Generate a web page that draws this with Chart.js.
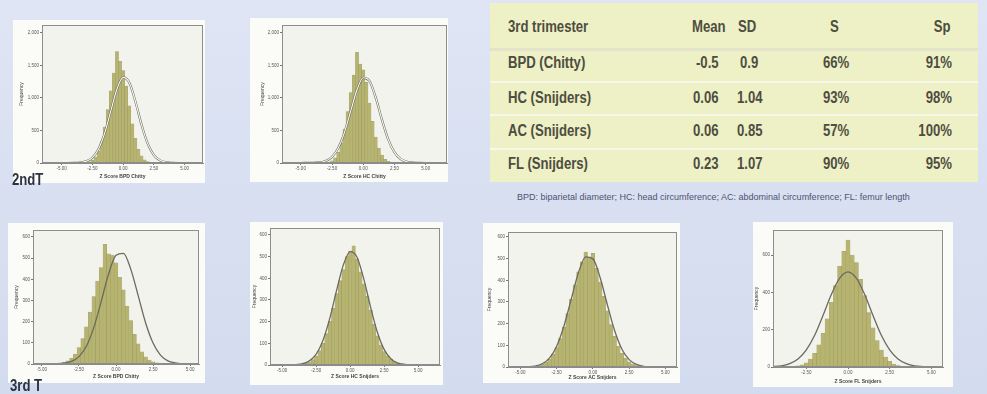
<!DOCTYPE html>
<html>
<head>
<meta charset="utf-8">
<script src="https://cdn.jsdelivr.net/npm/chart.js@4.4.1/dist/chart.umd.min.js"></script>
<style>
  body {
    margin: 0;
    width: 987px;
    height: 394px;
    overflow: hidden;
    position: relative;
    font-family: "Liberation Sans", Arial, sans-serif;
    background: linear-gradient(180deg, #dfe5f4 0%, #d9e0f1 45%, #d3dbee 100%);
  }
  canvas { position: absolute; background: #fbfbf8; }
  .lbl {
    position: absolute; font-weight: bold; font-size: 16px; line-height: 16px;
    color: #2b3242; transform: scaleX(.82); transform-origin: left center; white-space: nowrap;
  }
  #tbl { position: absolute; left: 490px; top: 3px; width: 488px; height: 179px; background: #eef0c6; }
  .sep { position: absolute; left: 0; width: 100%; height: 2px; background: #f8f8ea; }
  .cell {
    position: absolute; font-weight: bold; font-size: 16px; line-height: 16px; color: #4d4d40;
    white-space: nowrap; transform: scaleX(.82); transform-origin: left center;
  }
  .cell.r { transform-origin: right center; }
  #note { position: absolute; left: 517px; top: 192px; font-size: 9px; line-height: 10px; color: #4d5372; white-space: nowrap; }
</style>
</head>
<body>

<div id="tbl"></div>
<div id="note">BPD: biparietal diameter; HC: head circumference; AC: abdominal circumference; FL: femur length</div>

<canvas id="c-bpd2" width="192" height="163"></canvas>
<canvas id="c-hc2" width="198" height="164"></canvas>
<canvas id="c-bpd3" width="197" height="160"></canvas>
<canvas id="c-hc3" width="193" height="163"></canvas>
<canvas id="c-ac3" width="197" height="160"></canvas>
<canvas id="c-fl3" width="200" height="165"></canvas>

<div class="lbl" style="left:12px; top:172px;">2ndT</div>
<div class="lbl" style="left:10px; top:378px;">3rd T</div>

<script>
// histogram bins (z score, bin centre)
var binX = [-4, -3.75, -3.5, -3.25, -3, -2.75, -2.5, -2.25, -2, -1.75, -1.5, -1.25, -1, -0.75, -0.5, -0.25,
            0, 0.25, 0.5, 0.75, 1, 1.25, 1.5, 1.75, 2, 2.25, 2.5, 2.75, 3, 3.25, 3.5, 3.75, 4, 4.25, 4.5];

var histBpd2 = [0, 2, 4, 6, 10, 18, 40, 90, 180, 330, 550, 820, 1110, 1380, 1710, 1560,
                1420, 1180, 880, 600, 380, 210, 110, 50, 22, 10, 5, 2, 0, 0, 0, 0, 0, 0, 0];
var histHc2  = [0, 1, 3, 5, 9, 16, 35, 80, 165, 310, 520, 790, 1080, 1350, 1700, 1520,
                1430, 1240, 920, 640, 400, 230, 120, 55, 25, 11, 5, 2, 0, 0, 0, 0, 0, 0, 0];
var histBpd3 = [2, 4, 8, 15, 27, 47, 77, 120, 175, 245, 318, 392, 455, 565, 520, 515,
                478, 410, 350, 272, 205, 140, 95, 58, 34, 19, 10, 5, 2, 1, 0, 0, 0, 0, 0];
var histHc3  = [1, 2, 4, 8, 14, 25, 41, 66, 100, 145, 201, 262, 330, 390, 440, 500,
                525, 550, 490, 430, 375, 318, 253, 189, 135, 92, 62, 42, 27, 16, 10, 6, 4, 2, 1];
var histAc3  = [3, 6, 12, 21, 36, 58, 90, 131, 184, 246, 313, 379, 439, 485, 530, 505,
                525, 455, 392, 326, 259, 196, 141, 97, 64, 40, 24, 14, 7, 4, 2, 1, 0, 0, 0];
var histFl3  = [0, 0, 1, 3, 6, 12, 23, 43, 73, 119, 181, 258, 346, 436, 540, 620,
                680, 600, 560, 470, 382, 292, 210, 141, 90, 53, 30, 16, 8, 4, 2, 1, 0, 0, 0];

// normal curves drawn over the histograms
var curveX = [-7, -5, -4.5, -4, -3.5, -3, -2.5, -2, -1.5, -1, -0.5, 0, 0.5, 1, 1.5, 2, 2.5, 3, 3.5, 4, 4.5, 5, 7];

var curveBpd2 = [0, 0, 0, 1, 6, 25, 81, 214, 458, 801, 1137, 1315, 1235, 945, 587, 297, 122, 41, 11, 2, 0, 0, 0];
var curveHc2  = [0, 0, 1, 2, 9, 31, 93, 230, 471, 801, 1125, 1309, 1260, 1004, 663, 362, 163, 61, 19, 5, 1, 0, 0];
var curveBpd3 = [0, 0, 0, 1, 4, 12, 35, 84, 172, 295, 425, 514, 523, 447, 322, 194, 99, 42, 15, 5, 1, 0, 0];
var curveHc3  = [0, 0, 0, 2, 6, 19, 50, 114, 216, 345, 463, 523, 497, 396, 266, 150, 71, 28, 9, 3, 1, 0, 0];
var curveAc3  = [0, 0, 1, 4, 15, 41, 96, 189, 312, 435, 508, 499, 412, 286, 167, 82, 34, 12, 3, 1, 0, 0, 0];
var curveFl3  = [0, 0, 2, 6, 18, 43, 92, 170, 276, 388, 476, 510, 476, 388, 276, 170, 92, 43, 18, 6, 2, 0, 0];

// tick labels
var xTicksWide = [-5, -2.5, 0, 2.5, 5];
var xTicksFl = [-2.5, 0, 2.5, 5];
var yTicks2nd = [0, 500, 1000, 1500, 2000];
var yTicks3rd = [0, 100, 200, 300, 400, 500, 600];
var yTicksFl = [0, 200, 400, 600];

// table
var tableHead = ['3rd trimester', 'Mean', 'SD', 'S', 'Sp'];
var tableRows = ['BPD (Chitty)', 'HC (Snijders)', 'AC (Snijders)', 'FL (Snijders)'];
var tableMean = ['-0.5', '0.06', '0.06', '0.23'];
var tableSD = ['0.9', '1.04', '0.85', '1.07'];
var tableS = ['66%', '93%', '57%', '90%'];
var tableSp = ['91%', '98%', '100%', '95%'];

// ---- table ----
var tbl = document.getElementById('tbl');
var rowTop = [16, 52, 87, 120, 153];
[45, 78, 111, 145].forEach(function(y, i) {
    var d = document.createElement('div');
    d.className = 'sep';
    d.style.top = y + 'px';
    if (i == 0) { d.style.height = '3px'; d.style.background = '#e2e3c9'; }
    tbl.appendChild(d);
});
function cell(txt, left, top, right) {
    var d = document.createElement('div');
    d.className = 'cell' + (right != null ? ' r' : '');
    d.textContent = txt;
    if (right != null) d.style.right = right + 'px'; else d.style.left = left + 'px';
    d.style.top = top + 'px';
    tbl.appendChild(d);
}
cell(tableHead[0], 18, rowTop[0]);
cell(tableHead[1], 202, rowTop[0]);
cell(tableHead[2], 248, rowTop[0]);
cell(tableHead[3], 340, rowTop[0]);
cell(tableHead[4], null, rowTop[0], 28);
for (var i = 0; i < tableRows.length; i++) {
    var t = rowTop[i + 1];
    cell(tableRows[i], 18, t);
    cell(tableMean[i], tableMean[i].charAt(0) == '-' ? 206 : 203, t);
    cell(tableSD[i], tableSD[i].length == 3 ? 250 : 247, t);
    cell(tableS[i], 333, t);
    cell(tableSp[i], null, t, 26);
}

// ---- histograms ----
Chart.defaults.font.family = '"Liberation Sans", Arial, sans-serif';
Chart.defaults.animation = false;

var plotFrame = {
    id: 'plotFrame',
    beforeDraw: function(chart) {
        var a = chart.chartArea, c = chart.ctx;
        c.save();
        c.fillStyle = '#f3f3ee';
        c.fillRect(a.left, a.top, a.right - a.left, a.bottom - a.top);
        c.restore();
    },
    afterDatasetsDraw: function(chart) {
        var a = chart.chartArea, c = chart.ctx;
        c.save();
        c.strokeStyle = '#8d8d8d';
        c.lineWidth = 1;
        c.strokeRect(a.left + 0.5, a.top + 0.5, a.right - a.left - 1, a.bottom - a.top - 1);
        c.restore();
    }
};

function makePanel(id, g, ax, hist, curve, lightCore) {
    var canvas = document.getElementById(id);
    canvas.style.left = g.left + 'px';
    canvas.style.top = g.top + 'px';

    var histPts = binX.map(function(x, i) { return {x: x, y: hist[i]}; });
    var curvePts = curveX.map(function(x, i) { return {x: x, y: curve[i]}; });

    var datasets = [{
        type: 'bar',
        data: histPts,
        backgroundColor: 'rgb(183,180,112)',
        borderColor: 'rgba(140,137,80,0.75)',
        borderWidth: 0.5,
        barPercentage: 1,
        categoryPercentage: 1,
        order: 2
    }, {
        type: 'line',
        data: curvePts,
        borderColor: '#6b6a5e',
        borderWidth: lightCore ? 2.2 : 1.3,
        pointRadius: 0,
        cubicInterpolationMode: 'monotone',
        order: 1
    }];
    if (lightCore) {
        datasets.push({
            type: 'line',
            data: curvePts,
            borderColor: '#fbfbf2',
            borderWidth: 1.1,
            pointRadius: 0,
            cubicInterpolationMode: 'monotone',
            order: 0
        });
    }

    var gridOpts = {display: true, drawOnChartArea: false, tickLength: 2, color: '#777', offset: false};

    return new Chart(canvas.getContext('2d'), {
        type: 'bar',
        data: {datasets: datasets},
        plugins: [plotFrame],
        options: {
            responsive: false,
            devicePixelRatio: 1,
            layout: {padding: {left: g.padL, right: g.padR, top: g.padT, bottom: g.padB}},
            plugins: {legend: {display: false}, tooltip: {enabled: false}},
            scales: {
                x: {
                    type: 'linear',
                    min: ax.xMin,
                    max: ax.xMax,
                    offset: false,
                    afterBuildTicks: function(s) { s.ticks = ax.xTicks.map(function(v) { return {value: v}; }); },
                    afterFit: function(s) { s.height = g.xH; },
                    ticks: {font: {size: 4.5}, color: '#555', padding: 1, maxRotation: 0, autoSkip: false,
                            callback: function(v) { return v.toFixed(2); }},
                    grid: gridOpts,
                    border: {color: '#8a8a8a'},
                    title: {display: true, text: ax.xTitle, font: {size: 5, weight: 'bold'}, color: '#444', padding: 0}
                },
                y: {
                    min: 0,
                    max: ax.yMax,
                    afterBuildTicks: function(s) { s.ticks = ax.yTicks.map(function(v) { return {value: v}; }); },
                    afterFit: function(s) { s.width = g.yW; },
                    ticks: {font: {size: 4.5}, color: '#555', padding: 1,
                            callback: function(v) { return v.toLocaleString('en-US'); }},
                    grid: gridOpts,
                    border: {color: '#8a8a8a'},
                    title: {display: true, text: 'Frequency', font: {size: 5}, color: '#444', padding: 0}
                }
            }
        }
    });
}

makePanel('c-bpd2', {left: 13, top: 20, padL: 6, padR: 2, padT: 5, padB: 3, yW: 23, xH: 17},
    {xMin: -6.6, xMax: 6.5, xTicks: xTicksWide, yMax: 2120, yTicks: yTicks2nd, xTitle: 'Z Score BPD Chitty'},
    histBpd2, curveBpd2, true);
makePanel('c-hc2', {left: 250, top: 18, padL: 10, padR: 1, padT: 7, padB: 2, yW: 22, xH: 17},
    {xMin: -6.5, xMax: 6.7, xTicks: xTicksWide, yMax: 2120, yTicks: yTicks2nd, xTitle: 'Z Score HC Chitty'},
    histHc2, curveHc2, true);
makePanel('c-bpd3', {left: 8, top: 223, padL: 6, padR: 6, padT: 7, padB: 3, yW: 19, xH: 16},
    {xMin: -5.6, xMax: 5.6, xTicks: xTicksWide, yMax: 633, yTicks: yTicks3rd, xTitle: 'Z Score BPD Chitty'},
    histBpd3, curveBpd3, false);
makePanel('c-hc3', {left: 250, top: 222, padL: 2, padR: 3, padT: 6, padB: 5, yW: 18, xH: 15},
    {xMin: -5.9, xMax: 6.6, xTicks: xTicksWide, yMax: 632, yTicks: yTicks3rd, xTitle: 'Z Score HC Snijders'},
    histHc3, curveHc3, false);
makePanel('c-ac3', {left: 483, top: 223, padL: 4, padR: 3, padT: 9, padB: 2, yW: 21, xH: 14},
    {xMin: -5.86, xMax: 5.8, xTicks: xTicksWide, yMax: 623, yTicks: yTicks3rd, xTitle: 'Z Score AC Snijders'},
    histAc3, curveAc3, false);
makePanel('c-fl3', {left: 753, top: 222, padL: 1, padR: 10, padT: 8, padB: 2, yW: 19, xH: 18},
    {xMin: -4.5, xMax: 5.7, xTicks: xTicksFl, yMax: 734, yTicks: yTicksFl, xTitle: 'Z Score FL Snijders'},
    histFl3, curveFl3, false);
</script>
</body>
</html>
